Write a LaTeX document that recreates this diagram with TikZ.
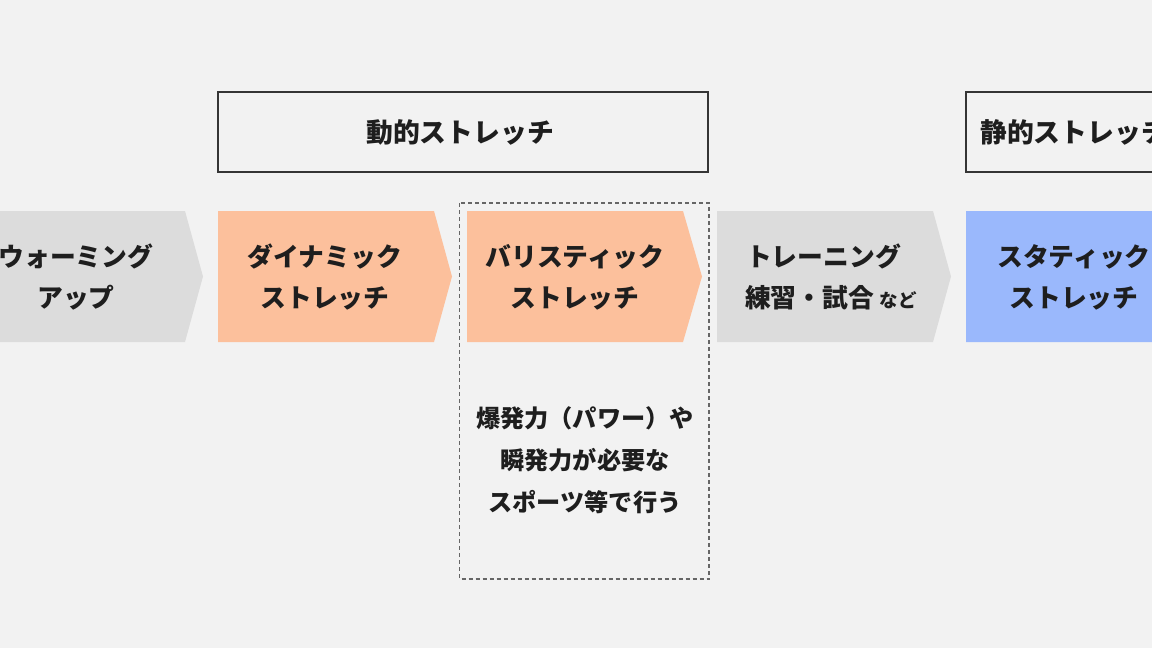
\documentclass[tikz,border=0pt]{standalone}
\usepackage{fontspec}
\setmainfont{Noto Sans CJK JP}
\definecolor{bg}{HTML}{F2F2F2}
\definecolor{chgray}{HTML}{DCDCDC}
\definecolor{chorange}{HTML}{FCC09C}
\definecolor{chblue}{HTML}{9AB8FC}
\definecolor{ink}{HTML}{1E1E1E}
\tikzset{
  lbl/.style={text=ink, font=\bfseries\fontsize{25.8}{41}\selectfont, align=center, inner sep=0pt},
  hlbl/.style={text=ink, font=\bfseries\fontsize{26.8}{30}\selectfont, align=center, inner sep=0pt},
  desc/.style={text=ink, font=\bfseries\fontsize{24.2}{42}\selectfont, align=center, inner sep=0pt},
  hdr/.style={draw=ink!90, line width=1.6pt, fill=none},
  dashbox/.style={draw=black!60, line width=1.2pt, dash pattern=on 4pt off 3pt}
}
\begin{document}
\begin{tikzpicture}[x=1pt,y=-1pt]
\fill[bg] (0,0) rectangle (1152,648);
\useasboundingbox (0,0) rectangle (1152,648);
\clip (0,0) rectangle (1152,648);
% chevrons
\fill[chgray]   (-31,211) -- (185,211) -- (203,276.5) -- (185,342) -- (-31,342) -- cycle;
\fill[chorange] (218,211) -- (434,211) -- (452,276.5) -- (434,342) -- (218,342) -- cycle;
\fill[chorange] (467,211) -- (683,211) -- (702,276.5) -- (683,342) -- (467,342) -- cycle;
\fill[chgray]   (717,211) -- (933,211) -- (951,276.5) -- (933,342) -- (717,342) -- cycle;
\fill[chblue]   (966,211) -- (1182,211) -- (1200,276.5) -- (1182,342) -- (966,342) -- cycle;
% labels
\node[lbl] (warm) at (76,277) {ウォーミング\\アップ};
\node[lbl] (dyn) at (325,277) {ダイナミック\\ストレッチ};
\node[lbl] (bal) at (575,277) {バリスティック\\ストレッチ};
\node[lbl] (train) at (831,277) {トレーニング\hspace*{15pt}\\練習・試合 {\fontsize{18.5}{18}\selectfont など}};
\node[lbl] (stat) at (1074,277) {スタティック\\ストレッチ};
% header boxes
\draw[hdr] (218,92) rectangle (708,172);
\node[hlbl] (dynhdr) at (460,132) {動的ストレッチ};
\draw[hdr] (966,92) rectangle (1200,172);
\node[hlbl] (stathdr) at (1074,132) {静的ストレッチ};
% dashed box
\draw[dashbox] (459.5,203) rectangle (709,579);
\node[desc] (note) at (585,460) {爆発力（パワー）や\\瞬発力が必要な\\スポーツ等で行う};
\end{tikzpicture}
\end{document}
